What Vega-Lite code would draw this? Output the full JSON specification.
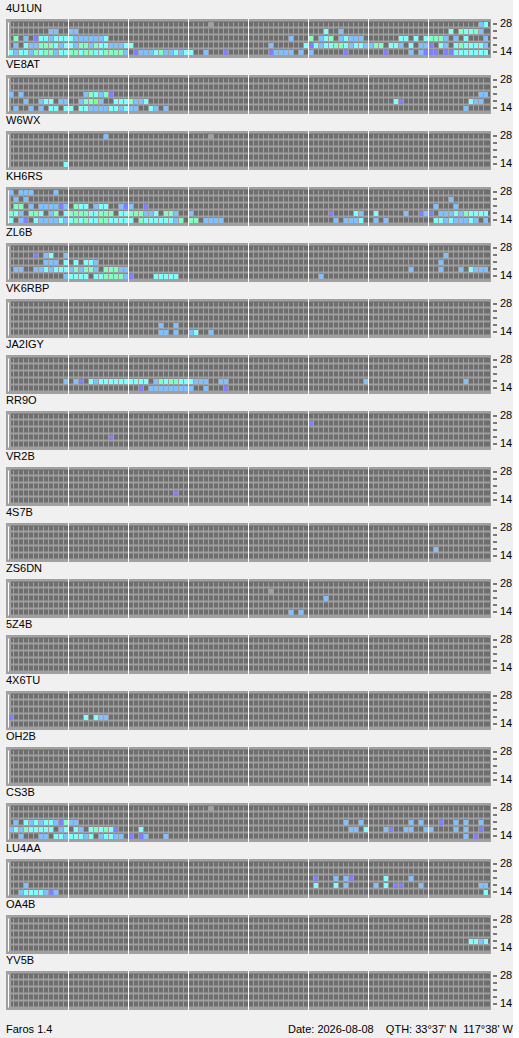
{
"$schema":"https://vega.github.io/schema/vega-lite/v6.json",
"background":"#f0f0f0",
"padding":{"left":6,"top":3,"right":0,"bottom":0},
"datasets":{
"hours":[{"c":12},{"c":24},{"c":36},{"c":48},{"c":60},{"c":72},{"c":84}],
"cells":[
{"s":"4U1UN","b":28,"c":40,"k":"x"},{"s":"4U1UN","b":28,"c":94,"k":"b"},{"s":"4U1UN","b":28,"c":95,"k":"c"},
{"s":"4U1UN","b":24,"c":8,"k":"b"},{"s":"4U1UN","b":24,"c":9,"k":"b"},{"s":"4U1UN","b":24,"c":12,"k":"b"},{"s":"4U1UN","b":24,"c":13,"k":"b"},{"s":"4U1UN","b":24,"c":63,"k":"c"},{"s":"4U1UN","b":24,"c":66,"k":"b"},{"s":"4U1UN","b":24,"c":88,"k":"c"},{"s":"4U1UN","b":24,"c":90,"k":"g"},{"s":"4U1UN","b":24,"c":91,"k":"c"},{"s":"4U1UN","b":24,"c":92,"k":"c"},{"s":"4U1UN","b":24,"c":93,"k":"g"},{"s":"4U1UN","b":24,"c":94,"k":"b"},
{"s":"4U1UN","b":21,"c":1,"k":"g"},{"s":"4U1UN","b":21,"c":3,"k":"b"},{"s":"4U1UN","b":21,"c":5,"k":"p"},{"s":"4U1UN","b":21,"c":6,"k":"c"},{"s":"4U1UN","b":21,"c":7,"k":"c"},{"s":"4U1UN","b":21,"c":8,"k":"b"},{"s":"4U1UN","b":21,"c":9,"k":"c"},{"s":"4U1UN","b":21,"c":10,"k":"c"},{"s":"4U1UN","b":21,"c":11,"k":"c"},{"s":"4U1UN","b":21,"c":12,"k":"c"},{"s":"4U1UN","b":21,"c":13,"k":"b"},{"s":"4U1UN","b":21,"c":14,"k":"b"},{"s":"4U1UN","b":21,"c":15,"k":"b"},{"s":"4U1UN","b":21,"c":16,"k":"b"},{"s":"4U1UN","b":21,"c":17,"k":"b"},{"s":"4U1UN","b":21,"c":18,"k":"b"},{"s":"4U1UN","b":21,"c":19,"k":"c"},{"s":"4U1UN","b":21,"c":56,"k":"b"},{"s":"4U1UN","b":21,"c":60,"k":"g"},{"s":"4U1UN","b":21,"c":62,"k":"b"},{"s":"4U1UN","b":21,"c":63,"k":"c"},{"s":"4U1UN","b":21,"c":64,"k":"g"},{"s":"4U1UN","b":21,"c":66,"k":"b"},{"s":"4U1UN","b":21,"c":67,"k":"c"},{"s":"4U1UN","b":21,"c":68,"k":"b"},{"s":"4U1UN","b":21,"c":69,"k":"b"},{"s":"4U1UN","b":21,"c":70,"k":"b"},{"s":"4U1UN","b":21,"c":78,"k":"c"},{"s":"4U1UN","b":21,"c":79,"k":"c"},{"s":"4U1UN","b":21,"c":81,"k":"c"},{"s":"4U1UN","b":21,"c":83,"k":"c"},{"s":"4U1UN","b":21,"c":84,"k":"g"},{"s":"4U1UN","b":21,"c":85,"k":"g"},{"s":"4U1UN","b":21,"c":86,"k":"g"},{"s":"4U1UN","b":21,"c":87,"k":"b"},{"s":"4U1UN","b":21,"c":89,"k":"b"},{"s":"4U1UN","b":21,"c":91,"k":"c"},{"s":"4U1UN","b":21,"c":95,"k":"b"},
{"s":"4U1UN","b":18,"c":1,"k":"b"},{"s":"4U1UN","b":18,"c":3,"k":"c"},{"s":"4U1UN","b":18,"c":4,"k":"b"},{"s":"4U1UN","b":18,"c":5,"k":"b"},{"s":"4U1UN","b":18,"c":6,"k":"g"},{"s":"4U1UN","b":18,"c":7,"k":"g"},{"s":"4U1UN","b":18,"c":8,"k":"g"},{"s":"4U1UN","b":18,"c":9,"k":"c"},{"s":"4U1UN","b":18,"c":10,"k":"b"},{"s":"4U1UN","b":18,"c":11,"k":"c"},{"s":"4U1UN","b":18,"c":12,"k":"c"},{"s":"4U1UN","b":18,"c":13,"k":"b"},{"s":"4U1UN","b":18,"c":14,"k":"g"},{"s":"4U1UN","b":18,"c":15,"k":"g"},{"s":"4U1UN","b":18,"c":16,"k":"b"},{"s":"4U1UN","b":18,"c":17,"k":"g"},{"s":"4U1UN","b":18,"c":18,"k":"c"},{"s":"4U1UN","b":18,"c":19,"k":"c"},{"s":"4U1UN","b":18,"c":20,"k":"b"},{"s":"4U1UN","b":18,"c":21,"k":"b"},{"s":"4U1UN","b":18,"c":22,"k":"b"},{"s":"4U1UN","b":18,"c":23,"k":"c"},{"s":"4U1UN","b":18,"c":24,"k":"c"},{"s":"4U1UN","b":18,"c":52,"k":"b"},{"s":"4U1UN","b":18,"c":59,"k":"c"},{"s":"4U1UN","b":18,"c":60,"k":"p"},{"s":"4U1UN","b":18,"c":61,"k":"c"},{"s":"4U1UN","b":18,"c":62,"k":"b"},{"s":"4U1UN","b":18,"c":63,"k":"c"},{"s":"4U1UN","b":18,"c":64,"k":"c"},{"s":"4U1UN","b":18,"c":65,"k":"g"},{"s":"4U1UN","b":18,"c":66,"k":"g"},{"s":"4U1UN","b":18,"c":67,"k":"c"},{"s":"4U1UN","b":18,"c":68,"k":"b"},{"s":"4U1UN","b":18,"c":69,"k":"c"},{"s":"4U1UN","b":18,"c":70,"k":"c"},{"s":"4U1UN","b":18,"c":71,"k":"b"},{"s":"4U1UN","b":18,"c":72,"k":"b"},{"s":"4U1UN","b":18,"c":73,"k":"g"},{"s":"4U1UN","b":18,"c":74,"k":"g"},{"s":"4U1UN","b":18,"c":76,"k":"c"},{"s":"4U1UN","b":18,"c":77,"k":"c"},{"s":"4U1UN","b":18,"c":78,"k":"b"},{"s":"4U1UN","b":18,"c":80,"k":"c"},{"s":"4U1UN","b":18,"c":82,"k":"b"},{"s":"4U1UN","b":18,"c":83,"k":"b"},{"s":"4U1UN","b":18,"c":84,"k":"p"},{"s":"4U1UN","b":18,"c":86,"k":"c"},{"s":"4U1UN","b":18,"c":87,"k":"b"},{"s":"4U1UN","b":18,"c":89,"k":"c"},{"s":"4U1UN","b":18,"c":90,"k":"g"},{"s":"4U1UN","b":18,"c":91,"k":"c"},{"s":"4U1UN","b":18,"c":92,"k":"c"},{"s":"4U1UN","b":18,"c":93,"k":"c"},{"s":"4U1UN","b":18,"c":94,"k":"c"},{"s":"4U1UN","b":18,"c":95,"k":"b"},
{"s":"4U1UN","b":14,"c":0,"k":"c"},{"s":"4U1UN","b":14,"c":1,"k":"b"},{"s":"4U1UN","b":14,"c":2,"k":"c"},{"s":"4U1UN","b":14,"c":3,"k":"c"},{"s":"4U1UN","b":14,"c":4,"k":"b"},{"s":"4U1UN","b":14,"c":5,"k":"g"},{"s":"4U1UN","b":14,"c":6,"k":"c"},{"s":"4U1UN","b":14,"c":7,"k":"g"},{"s":"4U1UN","b":14,"c":8,"k":"g"},{"s":"4U1UN","b":14,"c":9,"k":"b"},{"s":"4U1UN","b":14,"c":10,"k":"c"},{"s":"4U1UN","b":14,"c":11,"k":"c"},{"s":"4U1UN","b":14,"c":12,"k":"g"},{"s":"4U1UN","b":14,"c":13,"k":"g"},{"s":"4U1UN","b":14,"c":14,"k":"c"},{"s":"4U1UN","b":14,"c":15,"k":"g"},{"s":"4U1UN","b":14,"c":16,"k":"g"},{"s":"4U1UN","b":14,"c":17,"k":"c"},{"s":"4U1UN","b":14,"c":18,"k":"c"},{"s":"4U1UN","b":14,"c":19,"k":"g"},{"s":"4U1UN","b":14,"c":20,"k":"g"},{"s":"4U1UN","b":14,"c":21,"k":"g"},{"s":"4U1UN","b":14,"c":22,"k":"g"},{"s":"4U1UN","b":14,"c":23,"k":"b"},{"s":"4U1UN","b":14,"c":25,"k":"p"},{"s":"4U1UN","b":14,"c":26,"k":"b"},{"s":"4U1UN","b":14,"c":27,"k":"b"},{"s":"4U1UN","b":14,"c":28,"k":"b"},{"s":"4U1UN","b":14,"c":29,"k":"c"},{"s":"4U1UN","b":14,"c":30,"k":"g"},{"s":"4U1UN","b":14,"c":31,"k":"b"},{"s":"4U1UN","b":14,"c":32,"k":"b"},{"s":"4U1UN","b":14,"c":33,"k":"c"},{"s":"4U1UN","b":14,"c":34,"k":"b"},{"s":"4U1UN","b":14,"c":35,"k":"c"},{"s":"4U1UN","b":14,"c":36,"k":"c"},{"s":"4U1UN","b":14,"c":39,"k":"b"},{"s":"4U1UN","b":14,"c":43,"k":"p"},{"s":"4U1UN","b":14,"c":52,"k":"p"},{"s":"4U1UN","b":14,"c":53,"k":"b"},{"s":"4U1UN","b":14,"c":54,"k":"b"},{"s":"4U1UN","b":14,"c":55,"k":"b"},{"s":"4U1UN","b":14,"c":56,"k":"b"},{"s":"4U1UN","b":14,"c":58,"k":"b"},{"s":"4U1UN","b":14,"c":60,"k":"b"},{"s":"4U1UN","b":14,"c":67,"k":"p"},{"s":"4U1UN","b":14,"c":75,"k":"p"},{"s":"4U1UN","b":14,"c":80,"k":"b"},{"s":"4U1UN","b":14,"c":82,"k":"b"},{"s":"4U1UN","b":14,"c":83,"k":"p"},{"s":"4U1UN","b":14,"c":84,"k":"p"},{"s":"4U1UN","b":14,"c":85,"k":"p"},{"s":"4U1UN","b":14,"c":87,"k":"p"},{"s":"4U1UN","b":14,"c":88,"k":"p"},{"s":"4U1UN","b":14,"c":89,"k":"c"},{"s":"4U1UN","b":14,"c":90,"k":"c"},{"s":"4U1UN","b":14,"c":91,"k":"c"},{"s":"4U1UN","b":14,"c":92,"k":"c"},{"s":"4U1UN","b":14,"c":93,"k":"c"},{"s":"4U1UN","b":14,"c":94,"k":"c"},{"s":"4U1UN","b":14,"c":95,"k":"c"},
{"s":"VE8AT","b":21,"c":0,"k":"b"},{"s":"VE8AT","b":21,"c":2,"k":"b"},{"s":"VE8AT","b":21,"c":15,"k":"b"},{"s":"VE8AT","b":21,"c":16,"k":"g"},{"s":"VE8AT","b":21,"c":17,"k":"c"},{"s":"VE8AT","b":21,"c":18,"k":"b"},{"s":"VE8AT","b":21,"c":19,"k":"g"},{"s":"VE8AT","b":21,"c":20,"k":"p"},{"s":"VE8AT","b":21,"c":94,"k":"b"},{"s":"VE8AT","b":21,"c":95,"k":"b"},
{"s":"VE8AT","b":18,"c":3,"k":"b"},{"s":"VE8AT","b":18,"c":6,"k":"b"},{"s":"VE8AT","b":18,"c":7,"k":"c"},{"s":"VE8AT","b":18,"c":8,"k":"c"},{"s":"VE8AT","b":18,"c":10,"k":"b"},{"s":"VE8AT","b":18,"c":11,"k":"b"},{"s":"VE8AT","b":18,"c":14,"k":"b"},{"s":"VE8AT","b":18,"c":15,"k":"g"},{"s":"VE8AT","b":18,"c":16,"k":"g"},{"s":"VE8AT","b":18,"c":17,"k":"G"},{"s":"VE8AT","b":18,"c":18,"k":"b"},{"s":"VE8AT","b":18,"c":21,"k":"c"},{"s":"VE8AT","b":18,"c":22,"k":"c"},{"s":"VE8AT","b":18,"c":23,"k":"c"},{"s":"VE8AT","b":18,"c":24,"k":"g"},{"s":"VE8AT","b":18,"c":25,"k":"b"},{"s":"VE8AT","b":18,"c":26,"k":"b"},{"s":"VE8AT","b":18,"c":27,"k":"c"},{"s":"VE8AT","b":18,"c":77,"k":"c"},{"s":"VE8AT","b":18,"c":78,"k":"p"},{"s":"VE8AT","b":18,"c":92,"k":"c"},{"s":"VE8AT","b":18,"c":93,"k":"b"},{"s":"VE8AT","b":18,"c":94,"k":"b"},
{"s":"VE8AT","b":14,"c":1,"k":"b"},{"s":"VE8AT","b":14,"c":4,"k":"b"},{"s":"VE8AT","b":14,"c":6,"k":"b"},{"s":"VE8AT","b":14,"c":8,"k":"c"},{"s":"VE8AT","b":14,"c":9,"k":"c"},{"s":"VE8AT","b":14,"c":11,"k":"c"},{"s":"VE8AT","b":14,"c":12,"k":"c"},{"s":"VE8AT","b":14,"c":14,"k":"c"},{"s":"VE8AT","b":14,"c":15,"k":"c"},{"s":"VE8AT","b":14,"c":16,"k":"b"},{"s":"VE8AT","b":14,"c":17,"k":"b"},{"s":"VE8AT","b":14,"c":18,"k":"b"},{"s":"VE8AT","b":14,"c":19,"k":"b"},{"s":"VE8AT","b":14,"c":20,"k":"c"},{"s":"VE8AT","b":14,"c":21,"k":"c"},{"s":"VE8AT","b":14,"c":22,"k":"b"},{"s":"VE8AT","b":14,"c":23,"k":"c"},{"s":"VE8AT","b":14,"c":24,"k":"b"},{"s":"VE8AT","b":14,"c":25,"k":"b"},{"s":"VE8AT","b":14,"c":28,"k":"c"},{"s":"VE8AT","b":14,"c":29,"k":"b"},{"s":"VE8AT","b":14,"c":31,"k":"b"},{"s":"VE8AT","b":14,"c":91,"k":"b"},
{"s":"W6WX","b":28,"c":19,"k":"b"},{"s":"W6WX","b":28,"c":40,"k":"x"},{"s":"W6WX","b":14,"c":11,"k":"c"},
{"s":"KH6RS","b":28,"c":0,"k":"b"},{"s":"KH6RS","b":28,"c":2,"k":"b"},{"s":"KH6RS","b":28,"c":3,"k":"b"},{"s":"KH6RS","b":28,"c":4,"k":"b"},{"s":"KH6RS","b":28,"c":9,"k":"b"},
{"s":"KH6RS","b":24,"c":1,"k":"b"},{"s":"KH6RS","b":24,"c":3,"k":"b"},{"s":"KH6RS","b":24,"c":88,"k":"b"},
{"s":"KH6RS","b":21,"c":1,"k":"g"},{"s":"KH6RS","b":21,"c":2,"k":"g"},{"s":"KH6RS","b":21,"c":4,"k":"b"},{"s":"KH6RS","b":21,"c":6,"k":"b"},{"s":"KH6RS","b":21,"c":7,"k":"b"},{"s":"KH6RS","b":21,"c":8,"k":"b"},{"s":"KH6RS","b":21,"c":9,"k":"b"},{"s":"KH6RS","b":21,"c":10,"k":"p"},{"s":"KH6RS","b":21,"c":11,"k":"b"},{"s":"KH6RS","b":21,"c":13,"k":"g"},{"s":"KH6RS","b":21,"c":14,"k":"c"},{"s":"KH6RS","b":21,"c":15,"k":"c"},{"s":"KH6RS","b":21,"c":17,"k":"b"},{"s":"KH6RS","b":21,"c":18,"k":"c"},{"s":"KH6RS","b":21,"c":19,"k":"c"},{"s":"KH6RS","b":21,"c":22,"k":"b"},{"s":"KH6RS","b":21,"c":23,"k":"p"},{"s":"KH6RS","b":21,"c":24,"k":"b"},{"s":"KH6RS","b":21,"c":27,"k":"p"},{"s":"KH6RS","b":21,"c":85,"k":"b"},{"s":"KH6RS","b":21,"c":89,"k":"b"},
{"s":"KH6RS","b":18,"c":0,"k":"g"},{"s":"KH6RS","b":18,"c":1,"k":"c"},{"s":"KH6RS","b":18,"c":2,"k":"b"},{"s":"KH6RS","b":18,"c":4,"k":"g"},{"s":"KH6RS","b":18,"c":5,"k":"g"},{"s":"KH6RS","b":18,"c":6,"k":"c"},{"s":"KH6RS","b":18,"c":8,"k":"b"},{"s":"KH6RS","b":18,"c":9,"k":"g"},{"s":"KH6RS","b":18,"c":11,"k":"c"},{"s":"KH6RS","b":18,"c":12,"k":"g"},{"s":"KH6RS","b":18,"c":13,"k":"g"},{"s":"KH6RS","b":18,"c":14,"k":"g"},{"s":"KH6RS","b":18,"c":15,"k":"g"},{"s":"KH6RS","b":18,"c":16,"k":"c"},{"s":"KH6RS","b":18,"c":17,"k":"c"},{"s":"KH6RS","b":18,"c":18,"k":"g"},{"s":"KH6RS","b":18,"c":19,"k":"g"},{"s":"KH6RS","b":18,"c":20,"k":"g"},{"s":"KH6RS","b":18,"c":22,"k":"c"},{"s":"KH6RS","b":18,"c":23,"k":"c"},{"s":"KH6RS","b":18,"c":24,"k":"g"},{"s":"KH6RS","b":18,"c":25,"k":"g"},{"s":"KH6RS","b":18,"c":26,"k":"g"},{"s":"KH6RS","b":18,"c":27,"k":"b"},{"s":"KH6RS","b":18,"c":28,"k":"b"},{"s":"KH6RS","b":18,"c":29,"k":"c"},{"s":"KH6RS","b":18,"c":31,"k":"g"},{"s":"KH6RS","b":18,"c":32,"k":"g"},{"s":"KH6RS","b":18,"c":33,"k":"b"},{"s":"KH6RS","b":18,"c":36,"k":"b"},{"s":"KH6RS","b":18,"c":64,"k":"p"},{"s":"KH6RS","b":18,"c":69,"k":"c"},{"s":"KH6RS","b":18,"c":70,"k":"b"},{"s":"KH6RS","b":18,"c":73,"k":"c"},{"s":"KH6RS","b":18,"c":79,"k":"b"},{"s":"KH6RS","b":18,"c":82,"k":"p"},{"s":"KH6RS","b":18,"c":83,"k":"b"},{"s":"KH6RS","b":18,"c":84,"k":"p"},{"s":"KH6RS","b":18,"c":86,"k":"b"},{"s":"KH6RS","b":18,"c":87,"k":"b"},{"s":"KH6RS","b":18,"c":88,"k":"b"},{"s":"KH6RS","b":18,"c":89,"k":"c"},{"s":"KH6RS","b":18,"c":90,"k":"b"},{"s":"KH6RS","b":18,"c":91,"k":"g"},{"s":"KH6RS","b":18,"c":92,"k":"c"},{"s":"KH6RS","b":18,"c":93,"k":"c"},{"s":"KH6RS","b":18,"c":94,"k":"c"},{"s":"KH6RS","b":18,"c":95,"k":"c"},
{"s":"KH6RS","b":14,"c":0,"k":"c"},{"s":"KH6RS","b":14,"c":2,"k":"b"},{"s":"KH6RS","b":14,"c":3,"k":"p"},{"s":"KH6RS","b":14,"c":5,"k":"c"},{"s":"KH6RS","b":14,"c":6,"k":"b"},{"s":"KH6RS","b":14,"c":7,"k":"b"},{"s":"KH6RS","b":14,"c":8,"k":"b"},{"s":"KH6RS","b":14,"c":9,"k":"b"},{"s":"KH6RS","b":14,"c":10,"k":"c"},{"s":"KH6RS","b":14,"c":11,"k":"b"},{"s":"KH6RS","b":14,"c":12,"k":"c"},{"s":"KH6RS","b":14,"c":13,"k":"g"},{"s":"KH6RS","b":14,"c":14,"k":"c"},{"s":"KH6RS","b":14,"c":15,"k":"g"},{"s":"KH6RS","b":14,"c":16,"k":"c"},{"s":"KH6RS","b":14,"c":17,"k":"c"},{"s":"KH6RS","b":14,"c":18,"k":"g"},{"s":"KH6RS","b":14,"c":19,"k":"g"},{"s":"KH6RS","b":14,"c":20,"k":"c"},{"s":"KH6RS","b":14,"c":21,"k":"c"},{"s":"KH6RS","b":14,"c":22,"k":"c"},{"s":"KH6RS","b":14,"c":23,"k":"c"},{"s":"KH6RS","b":14,"c":24,"k":"c"},{"s":"KH6RS","b":14,"c":26,"k":"g"},{"s":"KH6RS","b":14,"c":27,"k":"c"},{"s":"KH6RS","b":14,"c":28,"k":"c"},{"s":"KH6RS","b":14,"c":29,"k":"c"},{"s":"KH6RS","b":14,"c":30,"k":"c"},{"s":"KH6RS","b":14,"c":31,"k":"c"},{"s":"KH6RS","b":14,"c":32,"k":"c"},{"s":"KH6RS","b":14,"c":33,"k":"b"},{"s":"KH6RS","b":14,"c":34,"k":"g"},{"s":"KH6RS","b":14,"c":36,"k":"g"},{"s":"KH6RS","b":14,"c":37,"k":"g"},{"s":"KH6RS","b":14,"c":39,"k":"b"},{"s":"KH6RS","b":14,"c":40,"k":"b"},{"s":"KH6RS","b":14,"c":41,"k":"b"},{"s":"KH6RS","b":14,"c":42,"k":"b"},{"s":"KH6RS","b":14,"c":65,"k":"b"},{"s":"KH6RS","b":14,"c":67,"k":"b"},{"s":"KH6RS","b":14,"c":68,"k":"b"},{"s":"KH6RS","b":14,"c":69,"k":"b"},{"s":"KH6RS","b":14,"c":70,"k":"c"},{"s":"KH6RS","b":14,"c":73,"k":"b"},{"s":"KH6RS","b":14,"c":75,"k":"b"},{"s":"KH6RS","b":14,"c":85,"k":"c"},{"s":"KH6RS","b":14,"c":86,"k":"c"},{"s":"KH6RS","b":14,"c":87,"k":"b"},{"s":"KH6RS","b":14,"c":88,"k":"c"},{"s":"KH6RS","b":14,"c":89,"k":"b"},{"s":"KH6RS","b":14,"c":90,"k":"b"},{"s":"KH6RS","b":14,"c":91,"k":"b"},{"s":"KH6RS","b":14,"c":92,"k":"c"},{"s":"KH6RS","b":14,"c":93,"k":"b"},{"s":"KH6RS","b":14,"c":95,"k":"b"},
{"s":"ZL6B","b":24,"c":5,"k":"p"},{"s":"ZL6B","b":24,"c":7,"k":"b"},{"s":"ZL6B","b":24,"c":8,"k":"c"},{"s":"ZL6B","b":24,"c":11,"k":"b"},{"s":"ZL6B","b":24,"c":87,"k":"b"},
{"s":"ZL6B","b":21,"c":7,"k":"b"},{"s":"ZL6B","b":21,"c":8,"k":"b"},{"s":"ZL6B","b":21,"c":9,"k":"b"},{"s":"ZL6B","b":21,"c":11,"k":"c"},{"s":"ZL6B","b":21,"c":13,"k":"c"},{"s":"ZL6B","b":21,"c":15,"k":"c"},{"s":"ZL6B","b":21,"c":16,"k":"c"},{"s":"ZL6B","b":21,"c":17,"k":"b"},{"s":"ZL6B","b":21,"c":86,"k":"b"},
{"s":"ZL6B","b":18,"c":1,"k":"b"},{"s":"ZL6B","b":18,"c":2,"k":"b"},{"s":"ZL6B","b":18,"c":5,"k":"b"},{"s":"ZL6B","b":18,"c":6,"k":"b"},{"s":"ZL6B","b":18,"c":7,"k":"c"},{"s":"ZL6B","b":18,"c":8,"k":"b"},{"s":"ZL6B","b":18,"c":9,"k":"c"},{"s":"ZL6B","b":18,"c":10,"k":"c"},{"s":"ZL6B","b":18,"c":11,"k":"c"},{"s":"ZL6B","b":18,"c":12,"k":"b"},{"s":"ZL6B","b":18,"c":13,"k":"g"},{"s":"ZL6B","b":18,"c":14,"k":"b"},{"s":"ZL6B","b":18,"c":15,"k":"g"},{"s":"ZL6B","b":18,"c":16,"k":"g"},{"s":"ZL6B","b":18,"c":17,"k":"b"},{"s":"ZL6B","b":18,"c":19,"k":"g"},{"s":"ZL6B","b":18,"c":20,"k":"g"},{"s":"ZL6B","b":18,"c":21,"k":"g"},{"s":"ZL6B","b":18,"c":22,"k":"b"},{"s":"ZL6B","b":18,"c":23,"k":"b"},{"s":"ZL6B","b":18,"c":80,"k":"b"},{"s":"ZL6B","b":18,"c":86,"k":"b"},{"s":"ZL6B","b":18,"c":90,"k":"b"},{"s":"ZL6B","b":18,"c":92,"k":"c"},{"s":"ZL6B","b":18,"c":93,"k":"b"},{"s":"ZL6B","b":18,"c":94,"k":"b"},{"s":"ZL6B","b":18,"c":95,"k":"b"},
{"s":"ZL6B","b":14,"c":11,"k":"b"},{"s":"ZL6B","b":14,"c":12,"k":"c"},{"s":"ZL6B","b":14,"c":13,"k":"c"},{"s":"ZL6B","b":14,"c":14,"k":"c"},{"s":"ZL6B","b":14,"c":15,"k":"c"},{"s":"ZL6B","b":14,"c":17,"k":"c"},{"s":"ZL6B","b":14,"c":18,"k":"c"},{"s":"ZL6B","b":14,"c":19,"k":"g"},{"s":"ZL6B","b":14,"c":20,"k":"g"},{"s":"ZL6B","b":14,"c":21,"k":"g"},{"s":"ZL6B","b":14,"c":22,"k":"g"},{"s":"ZL6B","b":14,"c":23,"k":"b"},{"s":"ZL6B","b":14,"c":24,"k":"p"},{"s":"ZL6B","b":14,"c":29,"k":"c"},{"s":"ZL6B","b":14,"c":30,"k":"c"},{"s":"ZL6B","b":14,"c":31,"k":"c"},{"s":"ZL6B","b":14,"c":32,"k":"c"},{"s":"ZL6B","b":14,"c":33,"k":"c"},{"s":"ZL6B","b":14,"c":62,"k":"b"},
{"s":"VK6RBP","b":18,"c":30,"k":"b"},{"s":"VK6RBP","b":18,"c":33,"k":"b"},{"s":"VK6RBP","b":14,"c":30,"k":"b"},{"s":"VK6RBP","b":14,"c":31,"k":"b"},{"s":"VK6RBP","b":14,"c":33,"k":"b"},{"s":"VK6RBP","b":14,"c":36,"k":"b"},{"s":"VK6RBP","b":14,"c":37,"k":"c"},{"s":"VK6RBP","b":14,"c":40,"k":"b"},
{"s":"JA2IGY","b":18,"c":11,"k":"b"},{"s":"JA2IGY","b":18,"c":13,"k":"b"},{"s":"JA2IGY","b":18,"c":14,"k":"p"},{"s":"JA2IGY","b":18,"c":16,"k":"c"},{"s":"JA2IGY","b":18,"c":17,"k":"b"},{"s":"JA2IGY","b":18,"c":18,"k":"c"},{"s":"JA2IGY","b":18,"c":19,"k":"c"},{"s":"JA2IGY","b":18,"c":20,"k":"c"},{"s":"JA2IGY","b":18,"c":21,"k":"c"},{"s":"JA2IGY","b":18,"c":22,"k":"c"},{"s":"JA2IGY","b":18,"c":23,"k":"c"},{"s":"JA2IGY","b":18,"c":24,"k":"c"},{"s":"JA2IGY","b":18,"c":25,"k":"c"},{"s":"JA2IGY","b":18,"c":26,"k":"c"},{"s":"JA2IGY","b":18,"c":27,"k":"c"},{"s":"JA2IGY","b":18,"c":29,"k":"b"},{"s":"JA2IGY","b":18,"c":30,"k":"g"},{"s":"JA2IGY","b":18,"c":31,"k":"c"},{"s":"JA2IGY","b":18,"c":32,"k":"g"},{"s":"JA2IGY","b":18,"c":33,"k":"g"},{"s":"JA2IGY","b":18,"c":34,"k":"c"},{"s":"JA2IGY","b":18,"c":35,"k":"c"},{"s":"JA2IGY","b":18,"c":36,"k":"c"},{"s":"JA2IGY","b":18,"c":37,"k":"b"},{"s":"JA2IGY","b":18,"c":38,"k":"b"},{"s":"JA2IGY","b":18,"c":39,"k":"b"},{"s":"JA2IGY","b":18,"c":42,"k":"b"},{"s":"JA2IGY","b":18,"c":43,"k":"b"},{"s":"JA2IGY","b":18,"c":71,"k":"b"},{"s":"JA2IGY","b":18,"c":91,"k":"b"},
{"s":"JA2IGY","b":14,"c":26,"k":"p"},{"s":"JA2IGY","b":14,"c":28,"k":"b"},{"s":"JA2IGY","b":14,"c":29,"k":"b"},{"s":"JA2IGY","b":14,"c":30,"k":"b"},{"s":"JA2IGY","b":14,"c":31,"k":"b"},{"s":"JA2IGY","b":14,"c":32,"k":"b"},{"s":"JA2IGY","b":14,"c":33,"k":"b"},{"s":"JA2IGY","b":14,"c":34,"k":"b"},{"s":"JA2IGY","b":14,"c":35,"k":"b"},{"s":"JA2IGY","b":14,"c":36,"k":"b"},{"s":"JA2IGY","b":14,"c":39,"k":"b"},{"s":"JA2IGY","b":14,"c":43,"k":"p"},
{"s":"RR9O","b":24,"c":60,"k":"p"},{"s":"RR9O","b":18,"c":20,"k":"p"},
{"s":"VR2B","b":18,"c":33,"k":"p"},
{"s":"4S7B","b":18,"c":85,"k":"b"},
{"s":"ZS6DN","b":24,"c":52,"k":"x"},{"s":"ZS6DN","b":21,"c":63,"k":"b"},{"s":"ZS6DN","b":14,"c":56,"k":"b"},{"s":"ZS6DN","b":14,"c":58,"k":"b"},
{"s":"4X6TU","b":18,"c":0,"k":"p"},{"s":"4X6TU","b":18,"c":15,"k":"c"},{"s":"4X6TU","b":18,"c":17,"k":"c"},{"s":"4X6TU","b":18,"c":18,"k":"b"},{"s":"4X6TU","b":18,"c":19,"k":"b"},
{"s":"CS3B","b":28,"c":40,"k":"x"},
{"s":"CS3B","b":21,"c":1,"k":"b"},{"s":"CS3B","b":21,"c":3,"k":"c"},{"s":"CS3B","b":21,"c":4,"k":"b"},{"s":"CS3B","b":21,"c":5,"k":"c"},{"s":"CS3B","b":21,"c":6,"k":"b"},{"s":"CS3B","b":21,"c":7,"k":"c"},{"s":"CS3B","b":21,"c":8,"k":"c"},{"s":"CS3B","b":21,"c":9,"k":"b"},{"s":"CS3B","b":21,"c":10,"k":"p"},{"s":"CS3B","b":21,"c":11,"k":"g"},{"s":"CS3B","b":21,"c":12,"k":"b"},{"s":"CS3B","b":21,"c":13,"k":"b"},{"s":"CS3B","b":21,"c":67,"k":"b"},{"s":"CS3B","b":21,"c":70,"k":"b"},{"s":"CS3B","b":21,"c":80,"k":"b"},{"s":"CS3B","b":21,"c":82,"k":"b"},{"s":"CS3B","b":21,"c":86,"k":"p"},{"s":"CS3B","b":21,"c":89,"k":"b"},{"s":"CS3B","b":21,"c":91,"k":"b"},{"s":"CS3B","b":21,"c":94,"k":"b"},
{"s":"CS3B","b":18,"c":0,"k":"b"},{"s":"CS3B","b":18,"c":1,"k":"c"},{"s":"CS3B","b":18,"c":2,"k":"b"},{"s":"CS3B","b":18,"c":3,"k":"g"},{"s":"CS3B","b":18,"c":4,"k":"c"},{"s":"CS3B","b":18,"c":5,"k":"c"},{"s":"CS3B","b":18,"c":6,"k":"c"},{"s":"CS3B","b":18,"c":7,"k":"c"},{"s":"CS3B","b":18,"c":8,"k":"c"},{"s":"CS3B","b":18,"c":10,"k":"b"},{"s":"CS3B","b":18,"c":11,"k":"c"},{"s":"CS3B","b":18,"c":13,"k":"c"},{"s":"CS3B","b":18,"c":14,"k":"b"},{"s":"CS3B","b":18,"c":16,"k":"c"},{"s":"CS3B","b":18,"c":17,"k":"g"},{"s":"CS3B","b":18,"c":18,"k":"c"},{"s":"CS3B","b":18,"c":19,"k":"g"},{"s":"CS3B","b":18,"c":20,"k":"c"},{"s":"CS3B","b":18,"c":21,"k":"p"},{"s":"CS3B","b":18,"c":26,"k":"c"},{"s":"CS3B","b":18,"c":68,"k":"b"},{"s":"CS3B","b":18,"c":69,"k":"b"},{"s":"CS3B","b":18,"c":71,"k":"c"},{"s":"CS3B","b":18,"c":75,"k":"b"},{"s":"CS3B","b":18,"c":76,"k":"p"},{"s":"CS3B","b":18,"c":79,"k":"b"},{"s":"CS3B","b":18,"c":80,"k":"b"},{"s":"CS3B","b":18,"c":83,"k":"b"},{"s":"CS3B","b":18,"c":84,"k":"b"},{"s":"CS3B","b":18,"c":89,"k":"b"},{"s":"CS3B","b":18,"c":91,"k":"b"},{"s":"CS3B","b":18,"c":94,"k":"p"},
{"s":"CS3B","b":14,"c":2,"k":"b"},{"s":"CS3B","b":14,"c":6,"k":"b"},{"s":"CS3B","b":14,"c":7,"k":"b"},{"s":"CS3B","b":14,"c":9,"k":"c"},{"s":"CS3B","b":14,"c":10,"k":"c"},{"s":"CS3B","b":14,"c":11,"k":"b"},{"s":"CS3B","b":14,"c":12,"k":"c"},{"s":"CS3B","b":14,"c":13,"k":"c"},{"s":"CS3B","b":14,"c":14,"k":"c"},{"s":"CS3B","b":14,"c":15,"k":"b"},{"s":"CS3B","b":14,"c":16,"k":"c"},{"s":"CS3B","b":14,"c":18,"k":"b"},{"s":"CS3B","b":14,"c":19,"k":"c"},{"s":"CS3B","b":14,"c":20,"k":"c"},{"s":"CS3B","b":14,"c":21,"k":"b"},{"s":"CS3B","b":14,"c":22,"k":"b"},{"s":"CS3B","b":14,"c":24,"k":"p"},{"s":"CS3B","b":14,"c":26,"k":"p"},{"s":"CS3B","b":14,"c":27,"k":"b"},{"s":"CS3B","b":14,"c":31,"k":"b"},{"s":"CS3B","b":14,"c":91,"k":"b"},{"s":"CS3B","b":14,"c":93,"k":"p"},
{"s":"LU4AA","b":21,"c":61,"k":"p"},{"s":"LU4AA","b":21,"c":65,"k":"b"},{"s":"LU4AA","b":21,"c":67,"k":"b"},{"s":"LU4AA","b":21,"c":68,"k":"p"},{"s":"LU4AA","b":21,"c":75,"k":"c"},{"s":"LU4AA","b":21,"c":80,"k":"b"},
{"s":"LU4AA","b":18,"c":3,"k":"b"},{"s":"LU4AA","b":18,"c":61,"k":"c"},{"s":"LU4AA","b":18,"c":65,"k":"c"},{"s":"LU4AA","b":18,"c":67,"k":"b"},{"s":"LU4AA","b":18,"c":73,"k":"b"},{"s":"LU4AA","b":18,"c":75,"k":"c"},{"s":"LU4AA","b":18,"c":77,"k":"p"},{"s":"LU4AA","b":18,"c":78,"k":"p"},{"s":"LU4AA","b":18,"c":82,"k":"b"},{"s":"LU4AA","b":18,"c":94,"k":"b"},{"s":"LU4AA","b":18,"c":95,"k":"b"},
{"s":"LU4AA","b":14,"c":2,"k":"b"},{"s":"LU4AA","b":14,"c":3,"k":"c"},{"s":"LU4AA","b":14,"c":4,"k":"c"},{"s":"LU4AA","b":14,"c":5,"k":"c"},{"s":"LU4AA","b":14,"c":6,"k":"c"},{"s":"LU4AA","b":14,"c":7,"k":"b"},{"s":"LU4AA","b":14,"c":8,"k":"p"},{"s":"LU4AA","b":14,"c":9,"k":"b"},{"s":"LU4AA","b":14,"c":95,"k":"c"},
{"s":"OA4B","b":18,"c":92,"k":"c"},{"s":"OA4B","b":18,"c":93,"k":"c"},{"s":"OA4B","b":18,"c":94,"k":"b"},{"s":"OA4B","b":18,"c":95,"k":"c"}
]},
"spacing":17,
"bounds":"flush",
"vconcat":[
{"title":"4U1UN","width":485,"height":39,"layer":[{"data":{"name":"cells"},"transform":[{"filter":"datum.s === '4U1UN'"}],"mark":"rect","encoding":{"x":{"field":"c","type":"ordinal","scale":{"domain":[0,1,2,3,4,5,6,7,8,9,10,11,12,13,14,15,16,17,18,19,20,21,22,23,24,25,26,27,28,29,30,31,32,33,34,35,36,37,38,39,40,41,42,43,44,45,46,47,48,49,50,51,52,53,54,55,56,57,58,59,60,61,62,63,64,65,66,67,68,69,70,71,72,73,74,75,76,77,78,79,80,81,82,83,84,85,86,87,88,89,90,91,92,93,94,95],"range":[3,482],"paddingInner":0.2,"paddingOuter":0},"axis":{"title":null,"zindex":1,"gridColor":{"condition":{"test":"datum.value % 12 === 0","value":"#ffffff"},"value":"#a0a0a0"}}},"y":{"field":"b","type":"ordinal","scale":{"domain":[28,24,21,18,14],"range":[3,36],"paddingInner":0.2857142857,"paddingOuter":0},"axis":{"title":null,"orient":"right","zindex":0}},"color":{"field":"k","type":"nominal","scale":{"domain":["b","c","g","G","p","x"],"range":["#80c0ff","#80ffff","#80ffc0","#80ff80","#8080ff","#a0a0a0"]},"legend":null}}},{"data":{"name":"hours"},"mark":{"type":"rule","color":"#ffffff","strokeWidth":1},"encoding":{"x":{"field":"c","type":"ordinal","bandPosition":-0.125}}}]},
{"title":"VE8AT","width":485,"height":39,"layer":[{"data":{"name":"cells"},"transform":[{"filter":"datum.s === 'VE8AT'"}],"mark":"rect","encoding":{"x":{"field":"c","type":"ordinal","scale":{"domain":[0,1,2,3,4,5,6,7,8,9,10,11,12,13,14,15,16,17,18,19,20,21,22,23,24,25,26,27,28,29,30,31,32,33,34,35,36,37,38,39,40,41,42,43,44,45,46,47,48,49,50,51,52,53,54,55,56,57,58,59,60,61,62,63,64,65,66,67,68,69,70,71,72,73,74,75,76,77,78,79,80,81,82,83,84,85,86,87,88,89,90,91,92,93,94,95],"range":[3,482],"paddingInner":0.2,"paddingOuter":0},"axis":{"title":null,"zindex":1,"gridColor":{"condition":{"test":"datum.value % 12 === 0","value":"#ffffff"},"value":"#a0a0a0"}}},"y":{"field":"b","type":"ordinal","scale":{"domain":[28,24,21,18,14],"range":[3,36],"paddingInner":0.2857142857,"paddingOuter":0},"axis":{"title":null,"orient":"right","zindex":0}},"color":{"field":"k","type":"nominal","scale":{"domain":["b","c","g","G","p","x"],"range":["#80c0ff","#80ffff","#80ffc0","#80ff80","#8080ff","#a0a0a0"]},"legend":null}}},{"data":{"name":"hours"},"mark":{"type":"rule","color":"#ffffff","strokeWidth":1},"encoding":{"x":{"field":"c","type":"ordinal","bandPosition":-0.125}}}]},
{"title":"W6WX","width":485,"height":39,"layer":[{"data":{"name":"cells"},"transform":[{"filter":"datum.s === 'W6WX'"}],"mark":"rect","encoding":{"x":{"field":"c","type":"ordinal","scale":{"domain":[0,1,2,3,4,5,6,7,8,9,10,11,12,13,14,15,16,17,18,19,20,21,22,23,24,25,26,27,28,29,30,31,32,33,34,35,36,37,38,39,40,41,42,43,44,45,46,47,48,49,50,51,52,53,54,55,56,57,58,59,60,61,62,63,64,65,66,67,68,69,70,71,72,73,74,75,76,77,78,79,80,81,82,83,84,85,86,87,88,89,90,91,92,93,94,95],"range":[3,482],"paddingInner":0.2,"paddingOuter":0},"axis":{"title":null,"zindex":1,"gridColor":{"condition":{"test":"datum.value % 12 === 0","value":"#ffffff"},"value":"#a0a0a0"}}},"y":{"field":"b","type":"ordinal","scale":{"domain":[28,24,21,18,14],"range":[3,36],"paddingInner":0.2857142857,"paddingOuter":0},"axis":{"title":null,"orient":"right","zindex":0}},"color":{"field":"k","type":"nominal","scale":{"domain":["b","c","g","G","p","x"],"range":["#80c0ff","#80ffff","#80ffc0","#80ff80","#8080ff","#a0a0a0"]},"legend":null}}},{"data":{"name":"hours"},"mark":{"type":"rule","color":"#ffffff","strokeWidth":1},"encoding":{"x":{"field":"c","type":"ordinal","bandPosition":-0.125}}}]},
{"title":"KH6RS","width":485,"height":39,"layer":[{"data":{"name":"cells"},"transform":[{"filter":"datum.s === 'KH6RS'"}],"mark":"rect","encoding":{"x":{"field":"c","type":"ordinal","scale":{"domain":[0,1,2,3,4,5,6,7,8,9,10,11,12,13,14,15,16,17,18,19,20,21,22,23,24,25,26,27,28,29,30,31,32,33,34,35,36,37,38,39,40,41,42,43,44,45,46,47,48,49,50,51,52,53,54,55,56,57,58,59,60,61,62,63,64,65,66,67,68,69,70,71,72,73,74,75,76,77,78,79,80,81,82,83,84,85,86,87,88,89,90,91,92,93,94,95],"range":[3,482],"paddingInner":0.2,"paddingOuter":0},"axis":{"title":null,"zindex":1,"gridColor":{"condition":{"test":"datum.value % 12 === 0","value":"#ffffff"},"value":"#a0a0a0"}}},"y":{"field":"b","type":"ordinal","scale":{"domain":[28,24,21,18,14],"range":[3,36],"paddingInner":0.2857142857,"paddingOuter":0},"axis":{"title":null,"orient":"right","zindex":0}},"color":{"field":"k","type":"nominal","scale":{"domain":["b","c","g","G","p","x"],"range":["#80c0ff","#80ffff","#80ffc0","#80ff80","#8080ff","#a0a0a0"]},"legend":null}}},{"data":{"name":"hours"},"mark":{"type":"rule","color":"#ffffff","strokeWidth":1},"encoding":{"x":{"field":"c","type":"ordinal","bandPosition":-0.125}}}]},
{"title":"ZL6B","width":485,"height":39,"layer":[{"data":{"name":"cells"},"transform":[{"filter":"datum.s === 'ZL6B'"}],"mark":"rect","encoding":{"x":{"field":"c","type":"ordinal","scale":{"domain":[0,1,2,3,4,5,6,7,8,9,10,11,12,13,14,15,16,17,18,19,20,21,22,23,24,25,26,27,28,29,30,31,32,33,34,35,36,37,38,39,40,41,42,43,44,45,46,47,48,49,50,51,52,53,54,55,56,57,58,59,60,61,62,63,64,65,66,67,68,69,70,71,72,73,74,75,76,77,78,79,80,81,82,83,84,85,86,87,88,89,90,91,92,93,94,95],"range":[3,482],"paddingInner":0.2,"paddingOuter":0},"axis":{"title":null,"zindex":1,"gridColor":{"condition":{"test":"datum.value % 12 === 0","value":"#ffffff"},"value":"#a0a0a0"}}},"y":{"field":"b","type":"ordinal","scale":{"domain":[28,24,21,18,14],"range":[3,36],"paddingInner":0.2857142857,"paddingOuter":0},"axis":{"title":null,"orient":"right","zindex":0}},"color":{"field":"k","type":"nominal","scale":{"domain":["b","c","g","G","p","x"],"range":["#80c0ff","#80ffff","#80ffc0","#80ff80","#8080ff","#a0a0a0"]},"legend":null}}},{"data":{"name":"hours"},"mark":{"type":"rule","color":"#ffffff","strokeWidth":1},"encoding":{"x":{"field":"c","type":"ordinal","bandPosition":-0.125}}}]},
{"title":"VK6RBP","width":485,"height":39,"layer":[{"data":{"name":"cells"},"transform":[{"filter":"datum.s === 'VK6RBP'"}],"mark":"rect","encoding":{"x":{"field":"c","type":"ordinal","scale":{"domain":[0,1,2,3,4,5,6,7,8,9,10,11,12,13,14,15,16,17,18,19,20,21,22,23,24,25,26,27,28,29,30,31,32,33,34,35,36,37,38,39,40,41,42,43,44,45,46,47,48,49,50,51,52,53,54,55,56,57,58,59,60,61,62,63,64,65,66,67,68,69,70,71,72,73,74,75,76,77,78,79,80,81,82,83,84,85,86,87,88,89,90,91,92,93,94,95],"range":[3,482],"paddingInner":0.2,"paddingOuter":0},"axis":{"title":null,"zindex":1,"gridColor":{"condition":{"test":"datum.value % 12 === 0","value":"#ffffff"},"value":"#a0a0a0"}}},"y":{"field":"b","type":"ordinal","scale":{"domain":[28,24,21,18,14],"range":[3,36],"paddingInner":0.2857142857,"paddingOuter":0},"axis":{"title":null,"orient":"right","zindex":0}},"color":{"field":"k","type":"nominal","scale":{"domain":["b","c","g","G","p","x"],"range":["#80c0ff","#80ffff","#80ffc0","#80ff80","#8080ff","#a0a0a0"]},"legend":null}}},{"data":{"name":"hours"},"mark":{"type":"rule","color":"#ffffff","strokeWidth":1},"encoding":{"x":{"field":"c","type":"ordinal","bandPosition":-0.125}}}]},
{"title":"JA2IGY","width":485,"height":39,"layer":[{"data":{"name":"cells"},"transform":[{"filter":"datum.s === 'JA2IGY'"}],"mark":"rect","encoding":{"x":{"field":"c","type":"ordinal","scale":{"domain":[0,1,2,3,4,5,6,7,8,9,10,11,12,13,14,15,16,17,18,19,20,21,22,23,24,25,26,27,28,29,30,31,32,33,34,35,36,37,38,39,40,41,42,43,44,45,46,47,48,49,50,51,52,53,54,55,56,57,58,59,60,61,62,63,64,65,66,67,68,69,70,71,72,73,74,75,76,77,78,79,80,81,82,83,84,85,86,87,88,89,90,91,92,93,94,95],"range":[3,482],"paddingInner":0.2,"paddingOuter":0},"axis":{"title":null,"zindex":1,"gridColor":{"condition":{"test":"datum.value % 12 === 0","value":"#ffffff"},"value":"#a0a0a0"}}},"y":{"field":"b","type":"ordinal","scale":{"domain":[28,24,21,18,14],"range":[3,36],"paddingInner":0.2857142857,"paddingOuter":0},"axis":{"title":null,"orient":"right","zindex":0}},"color":{"field":"k","type":"nominal","scale":{"domain":["b","c","g","G","p","x"],"range":["#80c0ff","#80ffff","#80ffc0","#80ff80","#8080ff","#a0a0a0"]},"legend":null}}},{"data":{"name":"hours"},"mark":{"type":"rule","color":"#ffffff","strokeWidth":1},"encoding":{"x":{"field":"c","type":"ordinal","bandPosition":-0.125}}}]},
{"title":"RR9O","width":485,"height":39,"layer":[{"data":{"name":"cells"},"transform":[{"filter":"datum.s === 'RR9O'"}],"mark":"rect","encoding":{"x":{"field":"c","type":"ordinal","scale":{"domain":[0,1,2,3,4,5,6,7,8,9,10,11,12,13,14,15,16,17,18,19,20,21,22,23,24,25,26,27,28,29,30,31,32,33,34,35,36,37,38,39,40,41,42,43,44,45,46,47,48,49,50,51,52,53,54,55,56,57,58,59,60,61,62,63,64,65,66,67,68,69,70,71,72,73,74,75,76,77,78,79,80,81,82,83,84,85,86,87,88,89,90,91,92,93,94,95],"range":[3,482],"paddingInner":0.2,"paddingOuter":0},"axis":{"title":null,"zindex":1,"gridColor":{"condition":{"test":"datum.value % 12 === 0","value":"#ffffff"},"value":"#a0a0a0"}}},"y":{"field":"b","type":"ordinal","scale":{"domain":[28,24,21,18,14],"range":[3,36],"paddingInner":0.2857142857,"paddingOuter":0},"axis":{"title":null,"orient":"right","zindex":0}},"color":{"field":"k","type":"nominal","scale":{"domain":["b","c","g","G","p","x"],"range":["#80c0ff","#80ffff","#80ffc0","#80ff80","#8080ff","#a0a0a0"]},"legend":null}}},{"data":{"name":"hours"},"mark":{"type":"rule","color":"#ffffff","strokeWidth":1},"encoding":{"x":{"field":"c","type":"ordinal","bandPosition":-0.125}}}]},
{"title":"VR2B","width":485,"height":39,"layer":[{"data":{"name":"cells"},"transform":[{"filter":"datum.s === 'VR2B'"}],"mark":"rect","encoding":{"x":{"field":"c","type":"ordinal","scale":{"domain":[0,1,2,3,4,5,6,7,8,9,10,11,12,13,14,15,16,17,18,19,20,21,22,23,24,25,26,27,28,29,30,31,32,33,34,35,36,37,38,39,40,41,42,43,44,45,46,47,48,49,50,51,52,53,54,55,56,57,58,59,60,61,62,63,64,65,66,67,68,69,70,71,72,73,74,75,76,77,78,79,80,81,82,83,84,85,86,87,88,89,90,91,92,93,94,95],"range":[3,482],"paddingInner":0.2,"paddingOuter":0},"axis":{"title":null,"zindex":1,"gridColor":{"condition":{"test":"datum.value % 12 === 0","value":"#ffffff"},"value":"#a0a0a0"}}},"y":{"field":"b","type":"ordinal","scale":{"domain":[28,24,21,18,14],"range":[3,36],"paddingInner":0.2857142857,"paddingOuter":0},"axis":{"title":null,"orient":"right","zindex":0}},"color":{"field":"k","type":"nominal","scale":{"domain":["b","c","g","G","p","x"],"range":["#80c0ff","#80ffff","#80ffc0","#80ff80","#8080ff","#a0a0a0"]},"legend":null}}},{"data":{"name":"hours"},"mark":{"type":"rule","color":"#ffffff","strokeWidth":1},"encoding":{"x":{"field":"c","type":"ordinal","bandPosition":-0.125}}}]},
{"title":"4S7B","width":485,"height":39,"layer":[{"data":{"name":"cells"},"transform":[{"filter":"datum.s === '4S7B'"}],"mark":"rect","encoding":{"x":{"field":"c","type":"ordinal","scale":{"domain":[0,1,2,3,4,5,6,7,8,9,10,11,12,13,14,15,16,17,18,19,20,21,22,23,24,25,26,27,28,29,30,31,32,33,34,35,36,37,38,39,40,41,42,43,44,45,46,47,48,49,50,51,52,53,54,55,56,57,58,59,60,61,62,63,64,65,66,67,68,69,70,71,72,73,74,75,76,77,78,79,80,81,82,83,84,85,86,87,88,89,90,91,92,93,94,95],"range":[3,482],"paddingInner":0.2,"paddingOuter":0},"axis":{"title":null,"zindex":1,"gridColor":{"condition":{"test":"datum.value % 12 === 0","value":"#ffffff"},"value":"#a0a0a0"}}},"y":{"field":"b","type":"ordinal","scale":{"domain":[28,24,21,18,14],"range":[3,36],"paddingInner":0.2857142857,"paddingOuter":0},"axis":{"title":null,"orient":"right","zindex":0}},"color":{"field":"k","type":"nominal","scale":{"domain":["b","c","g","G","p","x"],"range":["#80c0ff","#80ffff","#80ffc0","#80ff80","#8080ff","#a0a0a0"]},"legend":null}}},{"data":{"name":"hours"},"mark":{"type":"rule","color":"#ffffff","strokeWidth":1},"encoding":{"x":{"field":"c","type":"ordinal","bandPosition":-0.125}}}]},
{"title":"ZS6DN","width":485,"height":39,"layer":[{"data":{"name":"cells"},"transform":[{"filter":"datum.s === 'ZS6DN'"}],"mark":"rect","encoding":{"x":{"field":"c","type":"ordinal","scale":{"domain":[0,1,2,3,4,5,6,7,8,9,10,11,12,13,14,15,16,17,18,19,20,21,22,23,24,25,26,27,28,29,30,31,32,33,34,35,36,37,38,39,40,41,42,43,44,45,46,47,48,49,50,51,52,53,54,55,56,57,58,59,60,61,62,63,64,65,66,67,68,69,70,71,72,73,74,75,76,77,78,79,80,81,82,83,84,85,86,87,88,89,90,91,92,93,94,95],"range":[3,482],"paddingInner":0.2,"paddingOuter":0},"axis":{"title":null,"zindex":1,"gridColor":{"condition":{"test":"datum.value % 12 === 0","value":"#ffffff"},"value":"#a0a0a0"}}},"y":{"field":"b","type":"ordinal","scale":{"domain":[28,24,21,18,14],"range":[3,36],"paddingInner":0.2857142857,"paddingOuter":0},"axis":{"title":null,"orient":"right","zindex":0}},"color":{"field":"k","type":"nominal","scale":{"domain":["b","c","g","G","p","x"],"range":["#80c0ff","#80ffff","#80ffc0","#80ff80","#8080ff","#a0a0a0"]},"legend":null}}},{"data":{"name":"hours"},"mark":{"type":"rule","color":"#ffffff","strokeWidth":1},"encoding":{"x":{"field":"c","type":"ordinal","bandPosition":-0.125}}}]},
{"title":"5Z4B","width":485,"height":39,"layer":[{"data":{"name":"cells"},"transform":[{"filter":"datum.s === '5Z4B'"}],"mark":"rect","encoding":{"x":{"field":"c","type":"ordinal","scale":{"domain":[0,1,2,3,4,5,6,7,8,9,10,11,12,13,14,15,16,17,18,19,20,21,22,23,24,25,26,27,28,29,30,31,32,33,34,35,36,37,38,39,40,41,42,43,44,45,46,47,48,49,50,51,52,53,54,55,56,57,58,59,60,61,62,63,64,65,66,67,68,69,70,71,72,73,74,75,76,77,78,79,80,81,82,83,84,85,86,87,88,89,90,91,92,93,94,95],"range":[3,482],"paddingInner":0.2,"paddingOuter":0},"axis":{"title":null,"zindex":1,"gridColor":{"condition":{"test":"datum.value % 12 === 0","value":"#ffffff"},"value":"#a0a0a0"}}},"y":{"field":"b","type":"ordinal","scale":{"domain":[28,24,21,18,14],"range":[3,36],"paddingInner":0.2857142857,"paddingOuter":0},"axis":{"title":null,"orient":"right","zindex":0}},"color":{"field":"k","type":"nominal","scale":{"domain":["b","c","g","G","p","x"],"range":["#80c0ff","#80ffff","#80ffc0","#80ff80","#8080ff","#a0a0a0"]},"legend":null}}},{"data":{"name":"hours"},"mark":{"type":"rule","color":"#ffffff","strokeWidth":1},"encoding":{"x":{"field":"c","type":"ordinal","bandPosition":-0.125}}}]},
{"title":"4X6TU","width":485,"height":39,"layer":[{"data":{"name":"cells"},"transform":[{"filter":"datum.s === '4X6TU'"}],"mark":"rect","encoding":{"x":{"field":"c","type":"ordinal","scale":{"domain":[0,1,2,3,4,5,6,7,8,9,10,11,12,13,14,15,16,17,18,19,20,21,22,23,24,25,26,27,28,29,30,31,32,33,34,35,36,37,38,39,40,41,42,43,44,45,46,47,48,49,50,51,52,53,54,55,56,57,58,59,60,61,62,63,64,65,66,67,68,69,70,71,72,73,74,75,76,77,78,79,80,81,82,83,84,85,86,87,88,89,90,91,92,93,94,95],"range":[3,482],"paddingInner":0.2,"paddingOuter":0},"axis":{"title":null,"zindex":1,"gridColor":{"condition":{"test":"datum.value % 12 === 0","value":"#ffffff"},"value":"#a0a0a0"}}},"y":{"field":"b","type":"ordinal","scale":{"domain":[28,24,21,18,14],"range":[3,36],"paddingInner":0.2857142857,"paddingOuter":0},"axis":{"title":null,"orient":"right","zindex":0}},"color":{"field":"k","type":"nominal","scale":{"domain":["b","c","g","G","p","x"],"range":["#80c0ff","#80ffff","#80ffc0","#80ff80","#8080ff","#a0a0a0"]},"legend":null}}},{"data":{"name":"hours"},"mark":{"type":"rule","color":"#ffffff","strokeWidth":1},"encoding":{"x":{"field":"c","type":"ordinal","bandPosition":-0.125}}}]},
{"title":"OH2B","width":485,"height":39,"layer":[{"data":{"name":"cells"},"transform":[{"filter":"datum.s === 'OH2B'"}],"mark":"rect","encoding":{"x":{"field":"c","type":"ordinal","scale":{"domain":[0,1,2,3,4,5,6,7,8,9,10,11,12,13,14,15,16,17,18,19,20,21,22,23,24,25,26,27,28,29,30,31,32,33,34,35,36,37,38,39,40,41,42,43,44,45,46,47,48,49,50,51,52,53,54,55,56,57,58,59,60,61,62,63,64,65,66,67,68,69,70,71,72,73,74,75,76,77,78,79,80,81,82,83,84,85,86,87,88,89,90,91,92,93,94,95],"range":[3,482],"paddingInner":0.2,"paddingOuter":0},"axis":{"title":null,"zindex":1,"gridColor":{"condition":{"test":"datum.value % 12 === 0","value":"#ffffff"},"value":"#a0a0a0"}}},"y":{"field":"b","type":"ordinal","scale":{"domain":[28,24,21,18,14],"range":[3,36],"paddingInner":0.2857142857,"paddingOuter":0},"axis":{"title":null,"orient":"right","zindex":0}},"color":{"field":"k","type":"nominal","scale":{"domain":["b","c","g","G","p","x"],"range":["#80c0ff","#80ffff","#80ffc0","#80ff80","#8080ff","#a0a0a0"]},"legend":null}}},{"data":{"name":"hours"},"mark":{"type":"rule","color":"#ffffff","strokeWidth":1},"encoding":{"x":{"field":"c","type":"ordinal","bandPosition":-0.125}}}]},
{"title":"CS3B","width":485,"height":39,"layer":[{"data":{"name":"cells"},"transform":[{"filter":"datum.s === 'CS3B'"}],"mark":"rect","encoding":{"x":{"field":"c","type":"ordinal","scale":{"domain":[0,1,2,3,4,5,6,7,8,9,10,11,12,13,14,15,16,17,18,19,20,21,22,23,24,25,26,27,28,29,30,31,32,33,34,35,36,37,38,39,40,41,42,43,44,45,46,47,48,49,50,51,52,53,54,55,56,57,58,59,60,61,62,63,64,65,66,67,68,69,70,71,72,73,74,75,76,77,78,79,80,81,82,83,84,85,86,87,88,89,90,91,92,93,94,95],"range":[3,482],"paddingInner":0.2,"paddingOuter":0},"axis":{"title":null,"zindex":1,"gridColor":{"condition":{"test":"datum.value % 12 === 0","value":"#ffffff"},"value":"#a0a0a0"}}},"y":{"field":"b","type":"ordinal","scale":{"domain":[28,24,21,18,14],"range":[3,36],"paddingInner":0.2857142857,"paddingOuter":0},"axis":{"title":null,"orient":"right","zindex":0}},"color":{"field":"k","type":"nominal","scale":{"domain":["b","c","g","G","p","x"],"range":["#80c0ff","#80ffff","#80ffc0","#80ff80","#8080ff","#a0a0a0"]},"legend":null}}},{"data":{"name":"hours"},"mark":{"type":"rule","color":"#ffffff","strokeWidth":1},"encoding":{"x":{"field":"c","type":"ordinal","bandPosition":-0.125}}}]},
{"title":"LU4AA","width":485,"height":39,"layer":[{"data":{"name":"cells"},"transform":[{"filter":"datum.s === 'LU4AA'"}],"mark":"rect","encoding":{"x":{"field":"c","type":"ordinal","scale":{"domain":[0,1,2,3,4,5,6,7,8,9,10,11,12,13,14,15,16,17,18,19,20,21,22,23,24,25,26,27,28,29,30,31,32,33,34,35,36,37,38,39,40,41,42,43,44,45,46,47,48,49,50,51,52,53,54,55,56,57,58,59,60,61,62,63,64,65,66,67,68,69,70,71,72,73,74,75,76,77,78,79,80,81,82,83,84,85,86,87,88,89,90,91,92,93,94,95],"range":[3,482],"paddingInner":0.2,"paddingOuter":0},"axis":{"title":null,"zindex":1,"gridColor":{"condition":{"test":"datum.value % 12 === 0","value":"#ffffff"},"value":"#a0a0a0"}}},"y":{"field":"b","type":"ordinal","scale":{"domain":[28,24,21,18,14],"range":[3,36],"paddingInner":0.2857142857,"paddingOuter":0},"axis":{"title":null,"orient":"right","zindex":0}},"color":{"field":"k","type":"nominal","scale":{"domain":["b","c","g","G","p","x"],"range":["#80c0ff","#80ffff","#80ffc0","#80ff80","#8080ff","#a0a0a0"]},"legend":null}}},{"data":{"name":"hours"},"mark":{"type":"rule","color":"#ffffff","strokeWidth":1},"encoding":{"x":{"field":"c","type":"ordinal","bandPosition":-0.125}}}]},
{"title":"OA4B","width":485,"height":39,"layer":[{"data":{"name":"cells"},"transform":[{"filter":"datum.s === 'OA4B'"}],"mark":"rect","encoding":{"x":{"field":"c","type":"ordinal","scale":{"domain":[0,1,2,3,4,5,6,7,8,9,10,11,12,13,14,15,16,17,18,19,20,21,22,23,24,25,26,27,28,29,30,31,32,33,34,35,36,37,38,39,40,41,42,43,44,45,46,47,48,49,50,51,52,53,54,55,56,57,58,59,60,61,62,63,64,65,66,67,68,69,70,71,72,73,74,75,76,77,78,79,80,81,82,83,84,85,86,87,88,89,90,91,92,93,94,95],"range":[3,482],"paddingInner":0.2,"paddingOuter":0},"axis":{"title":null,"zindex":1,"gridColor":{"condition":{"test":"datum.value % 12 === 0","value":"#ffffff"},"value":"#a0a0a0"}}},"y":{"field":"b","type":"ordinal","scale":{"domain":[28,24,21,18,14],"range":[3,36],"paddingInner":0.2857142857,"paddingOuter":0},"axis":{"title":null,"orient":"right","zindex":0}},"color":{"field":"k","type":"nominal","scale":{"domain":["b","c","g","G","p","x"],"range":["#80c0ff","#80ffff","#80ffc0","#80ff80","#8080ff","#a0a0a0"]},"legend":null}}},{"data":{"name":"hours"},"mark":{"type":"rule","color":"#ffffff","strokeWidth":1},"encoding":{"x":{"field":"c","type":"ordinal","bandPosition":-0.125}}}]},
{"title":"YV5B","width":485,"height":39,"layer":[{"data":{"name":"cells"},"transform":[{"filter":"datum.s === 'YV5B'"}],"mark":"rect","encoding":{"x":{"field":"c","type":"ordinal","scale":{"domain":[0,1,2,3,4,5,6,7,8,9,10,11,12,13,14,15,16,17,18,19,20,21,22,23,24,25,26,27,28,29,30,31,32,33,34,35,36,37,38,39,40,41,42,43,44,45,46,47,48,49,50,51,52,53,54,55,56,57,58,59,60,61,62,63,64,65,66,67,68,69,70,71,72,73,74,75,76,77,78,79,80,81,82,83,84,85,86,87,88,89,90,91,92,93,94,95],"range":[3,482],"paddingInner":0.2,"paddingOuter":0},"axis":{"title":null,"zindex":1,"gridColor":{"condition":{"test":"datum.value % 12 === 0","value":"#ffffff"},"value":"#a0a0a0"}}},"y":{"field":"b","type":"ordinal","scale":{"domain":[28,24,21,18,14],"range":[3,36],"paddingInner":0.2857142857,"paddingOuter":0},"axis":{"title":null,"orient":"right","zindex":0}},"color":{"field":"k","type":"nominal","scale":{"domain":["b","c","g","G","p","x"],"range":["#80c0ff","#80ffff","#80ffc0","#80ff80","#8080ff","#a0a0a0"]},"legend":null}}},{"data":{"name":"hours"},"mark":{"type":"rule","color":"#ffffff","strokeWidth":1},"encoding":{"x":{"field":"c","type":"ordinal","bandPosition":-0.125}}}]},
{"width":507,"height":11,"view":{"fill":null,"stroke":null},
 "data":{"values":[{"t":"Faros 1.4","side":"left"},{"t":"Date: 2026-08-08\u00a0\u00a0\u00a0 QTH: 33°37' N\u00a0 117°38' W","side":"right"}]},
 "layer":[
  {"transform":[{"filter":"datum.side === 'left'"}],"mark":{"type":"text","align":"left","baseline":"alphabetic"},"encoding":{"x":{"field":"side","type":"nominal","scale":{"type":"point","domain":["left","right"],"padding":0},"axis":null},"text":{"field":"t"}}},
  {"transform":[{"filter":"datum.side === 'right'"}],"mark":{"type":"text","align":"right","baseline":"alphabetic"},"encoding":{"x":{"field":"side","type":"nominal"},"text":{"field":"t"}}}
 ]}
],
"config":{
 "view":{"fill":"#a0a0a0","stroke":null},
 "title":{"font":"Liberation Sans","fontSize":11,"fontWeight":"normal","color":"#000000","anchor":"start","baseline":"alphabetic","offset":4},
 "text":{"font":"Liberation Sans","fontSize":11,"color":"#000000"},
 "axisX":{"grid":true,"gridWidth":1,"gridOpacity":1,"bandPosition":-0.25,"domain":false,"ticks":false,"labels":false},
 "axisY":{"grid":true,"gridColor":"#6e6e6e","gridWidth":5,"gridOpacity":1,"translate":0,"offset":2,"bandPosition":0.5,"domain":false,"ticks":true,"tickSize":4,"tickColor":"#000000","tickWidth":1,"labelExpr":"datum.value == 28 || datum.value == 14 ? datum.label : ''","labelFont":"Liberation Sans","labelFontSize":11,"labelColor":"#000000","labelPadding":3}
}
}
